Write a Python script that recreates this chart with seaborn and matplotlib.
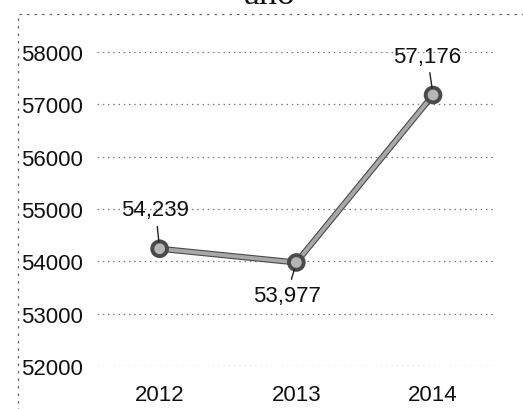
import pandas as pd
import matplotlib
matplotlib.use("Agg")
import matplotlib.pyplot as plt
import matplotlib.patheffects as pe
from matplotlib.patches import Rectangle
import seaborn as sns

# Data
years = ["2012", "2013", "2014"]
values = [54239, 53977, 57176]
y_ticks = [52000, 53000, 54000, 55000, 56000, 57000, 58000]
label_offsets = [(-3, 28), (-7, -24), (-4, 28)]

df = pd.DataFrame({"year": years, "value": values})

sns.set_style("white")
plt.rcParams["font.family"] = ["Liberation Sans", "DejaVu Sans"]

fig = plt.figure(figsize=(5.23, 4.10), dpi=100)
ax = fig.add_axes([0.185, 0.105, 0.758, 0.766])

line_color = "#a8a8a8"
edge_color = "#4a4a4a"
sns.lineplot(data=df, x="year", y="value", ax=ax, color=line_color, lw=2.8,
             marker="o", markersize=9, markerfacecolor="#b5b5b5",
             markeredgecolor=edge_color, markeredgewidth=1.2, sort=False,
             path_effects=[pe.Stroke(linewidth=4.4, foreground=edge_color), pe.Normal()])

# data labels with short leader lines
for i, (v, off) in enumerate(zip(values, label_offsets)):
    ax.annotate(f"{v:,}", xy=(i, v), xytext=off, textcoords="offset points",
                ha="center", va="center", fontsize=16, color="#111111",
                arrowprops=dict(arrowstyle="-", color="#222222", lw=1.0,
                                shrinkA=2, shrinkB=5))

ax.set_xlim(-0.46, 2.44)
ax.set_ylim(52000, 58000)
ax.set_yticks(y_ticks)
ax.set_yticklabels([str(t) for t in y_ticks])
ax.set_xlabel("")
ax.set_ylabel("")
ax.grid(axis="y", color="#7a7a7a", linestyle=(0, (1.2, 3)), lw=0.9)
ax.grid(axis="x", visible=False)
ax.tick_params(axis="y", labelsize=16, length=0, pad=10, labelcolor="#111111")
ax.tick_params(axis="x", labelsize=16, length=0, pad=13, labelcolor="#111111")
for s in ax.spines.values():
    s.set_visible(False)

# chart border (dashed) and title cut off at the top edge
fig.add_artist(Rectangle((18 / 523, -0.05), 1.2, 1 - 15 / 410 + 0.05,
                         transform=fig.transFigure, fill=False,
                         edgecolor="#666666", lw=0.9, linestyle=(0, (2, 4))))
fig.text(0.516, 0.99, "año", ha="center", va="baseline", fontsize=26,
         family=["Liberation Serif", "DejaVu Serif"], color="#111111")

fig.savefig("out.png", dpi=100)
